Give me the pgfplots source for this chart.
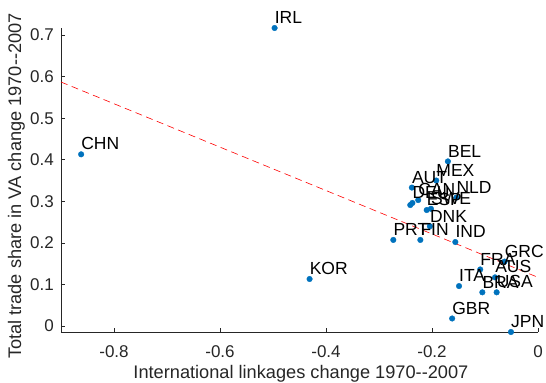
\documentclass[border=0pt]{standalone}
\usepackage{fontspec}
\setmainfont{Liberation Sans}
\usepackage{pgfplots}
\pgfplotsset{compat=1.18}
\definecolor{mblue}{rgb}{0,0.447,0.741}
\definecolor{axgray}{rgb}{0.15,0.15,0.15}
\begin{document}
\begin{tikzpicture}
\begin{axis}[
  name=ax,
  scale only axis,
  width=477bp, height=304bp,
  xmin=-0.9, xmax=0,
  ymin=-0.0145, ymax=0.717,
  axis x line*=bottom, axis y line*=left,
  axis line style={axgray, line width=0.5pt},
  tick align=inside,
  major tick length=4bp,
  tick style={axgray, line width=0.5pt},
  xtick={-0.8,-0.6,-0.4,-0.2,0},
  xticklabels={-0.8,-0.6,-0.4,-0.2,0},
  ytick={0,0.1,0.2,0.3,0.4,0.5,0.6,0.7},
  yticklabels={0,0.1,0.2,0.3,0.4,0.5,0.6,0.7},
  ticklabel style={font=\fontsize{17bp}{19bp}\selectfont, text=axgray, inner sep=0pt},
  xticklabel style={anchor=north, yshift=-13bp},
  yticklabel style={anchor=east, xshift=-7bp},
  xlabel={International linkages change 1970-{}-2007},
  ylabel={Total trade share in VA change 1970-{}-2007},
  label style={font=\fontsize{18.2bp}{20bp}\selectfont, text=axgray, inner sep=0pt},
  xlabel style={at={(axis description cs:0.503,-0.1086)}, anchor=north},
  ylabel style={at={(axis description cs:-0.0755,0.48)}, anchor=south, rotate=0},
  clip=false,
]
\addplot[red, dash pattern=on 7bp off 4.5bp, line width=0.6pt] coordinates {(-0.9,0.587) (0,0.117)};
\addplot[only marks, mark=*, mark size=2.8bp, color=mblue, mark options={draw=mblue, fill=mblue},
  nodes near coords, point meta=explicit symbolic,
  nodes near coords style={anchor=south west, inner sep=0pt, xshift=0bp, yshift=4bp,
    font=\fontsize{17.5bp}{19bp}\selectfont, text=black}]
table[meta=lab] {
x y lab
-0.497 0.717 IRL
-0.862 0.413 CHN
-0.431 0.113 KOR
-0.170 0.396 BEL
-0.192 0.350 MEX
-0.238 0.333 AUT
-0.226 0.303 CAN
-0.154 0.309 NLD
-0.237 0.296 DEU
-0.210 0.279 ESP
-0.202 0.282 SWE
-0.204 0.240 DNK
-0.222 0.207 FIN
-0.273 0.207 PRT
-0.156 0.202 IND
-0.063 0.155 GRC
-0.109 0.136 FRA
-0.081 0.117 AUS
-0.149 0.096 ITA
-0.105 0.081 BRA
-0.078 0.081 USA
-0.162 0.018 GBR
-0.051 -0.0145 JPN
};
\addplot[only marks, mark=*, mark size=2.8bp, color=mblue, mark options={draw=mblue, fill=mblue}] coordinates {(-0.241,0.291)};
\end{axis}
\pgfresetboundingbox
\path ([shift={(-61bp,-51bp)}]ax.south west) rectangle ([shift={(8bp,28bp)}]ax.north east);
\end{tikzpicture}
\end{document}
